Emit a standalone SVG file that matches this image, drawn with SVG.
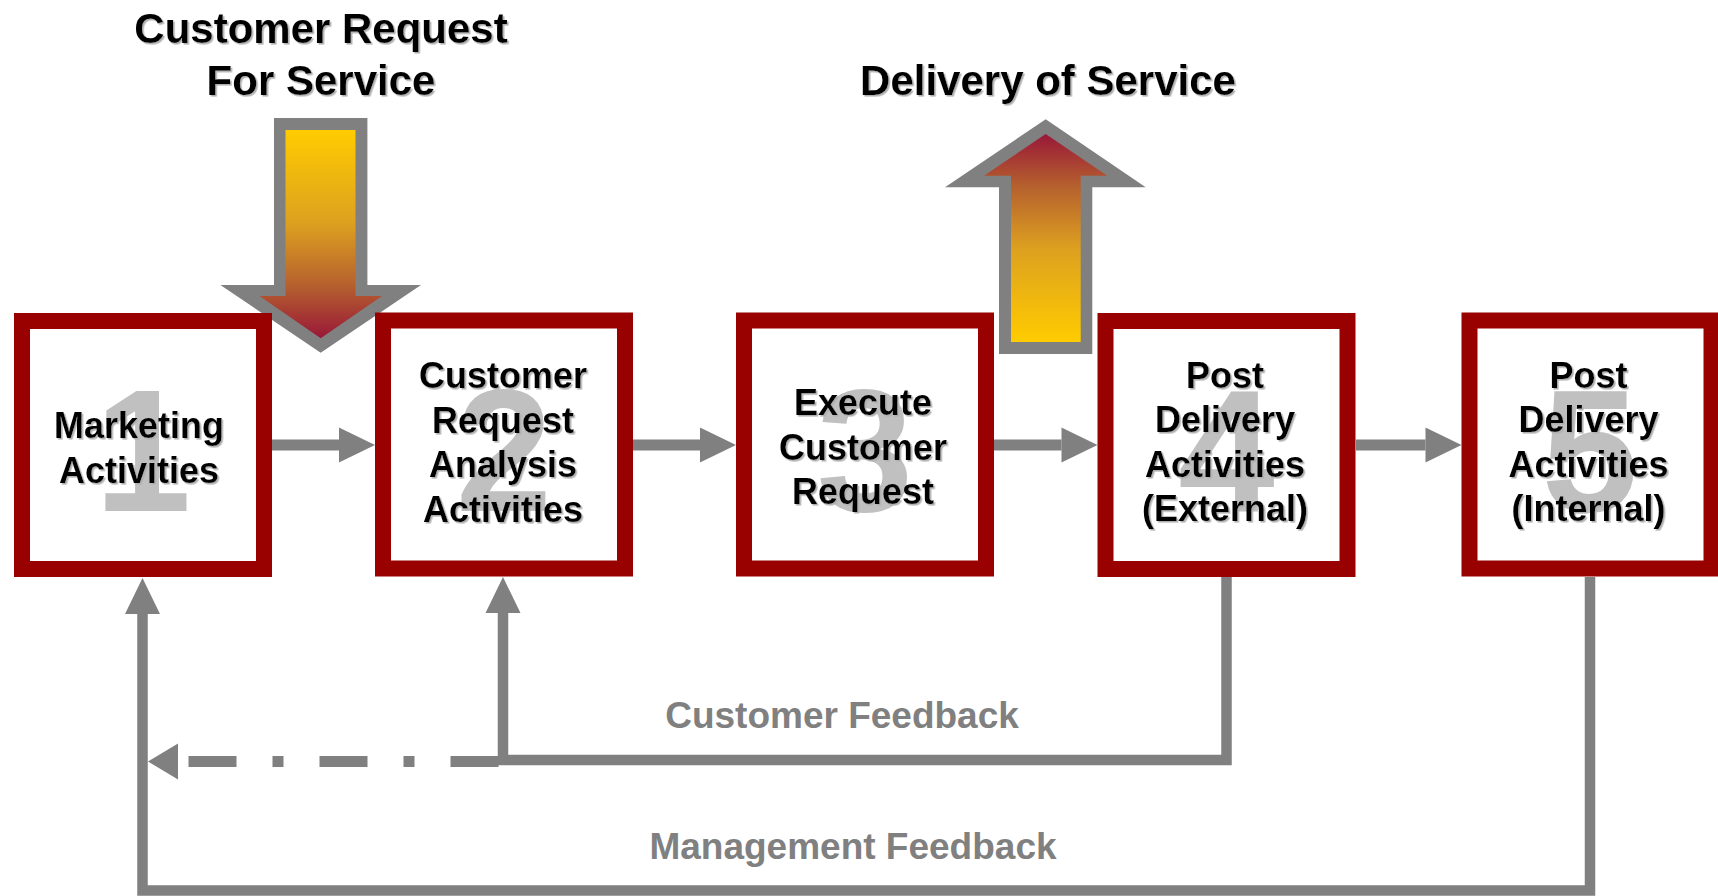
<svg xmlns="http://www.w3.org/2000/svg" width="1718" height="896" viewBox="0 0 1718 896">
<style>
.box{fill:#fff;stroke:#990000;stroke-width:16}
.lbl{font-family:"Liberation Sans",Arial,sans-serif;font-weight:bold;font-size:36px;fill:#000;text-anchor:middle;filter:url(#sh)}
.num{font-family:"Liberation Sans",Arial,sans-serif;font-weight:bold;font-size:174px;fill:#C0C0C0;text-anchor:middle}
.title{font-family:"Liberation Sans",Arial,sans-serif;font-weight:bold;font-size:42px;fill:#000;text-anchor:middle;filter:url(#sh)}
.fb{font-family:"Liberation Sans",Arial,sans-serif;font-weight:bold;font-size:37px;fill:#808080;text-anchor:middle}
.ln{fill:none;stroke:#808080;stroke-linejoin:miter}
</style>
<defs>
<filter id="sh" x="-5%" y="-20%" width="110%" height="140%">
<feDropShadow dx="1.6" dy="1.6" stdDeviation="0.6" flood-color="#b0b0b0" flood-opacity="1"/>
</filter>
<linearGradient id="gDown" x1="0" y1="130" x2="0" y2="338" gradientUnits="userSpaceOnUse">
<stop offset="0" stop-color="#FFCC00"/>
<stop offset="0.45" stop-color="#DDA020"/>
<stop offset="0.75" stop-color="#B5602E"/>
<stop offset="1" stop-color="#991838"/>
</linearGradient>
<linearGradient id="gUp" x1="0" y1="342" x2="0" y2="134" gradientUnits="userSpaceOnUse">
<stop offset="0" stop-color="#FFCC00"/>
<stop offset="0.45" stop-color="#DDA020"/>
<stop offset="0.75" stop-color="#B5602E"/>
<stop offset="1" stop-color="#991838"/>
</linearGradient>
<marker id="ah" markerUnits="userSpaceOnUse" markerWidth="36" markerHeight="35" refX="0" refY="17.5" orient="auto" overflow="visible">
<path d="M0,0 L36,17.5 L0,35 Z" fill="#808080"/>
</marker>
<marker id="ahd" markerUnits="userSpaceOnUse" markerWidth="30" markerHeight="36" refX="0" refY="18" orient="auto" overflow="visible">
<path d="M0,0 L30,18 L0,36 Z" fill="#808080"/>
</marker>
</defs>

<g id="connectors">
<path class="ln" d="M272,445 H339" stroke-width="11" marker-end="url(#ah)"/>
<path class="ln" d="M633,445 H700" stroke-width="11" marker-end="url(#ah)"/>
<path class="ln" d="M994,445 H1061.5" stroke-width="11" marker-end="url(#ah)"/>
<path class="ln" d="M1356,445 H1425.5" stroke-width="11" marker-end="url(#ah)"/>
<path class="ln" d="M1226.5,577 V760 H503 V613" stroke-width="10.5" marker-end="url(#ah)"/>
<path class="ln" d="M1590,577 V890.5 H142.5 V614" stroke-width="10.5" marker-end="url(#ah)"/>
<path class="ln" d="M498.5,761.5 H178" stroke-width="11" stroke-dasharray="48 36 11 36" marker-end="url(#ahd)"/>
<text class="fb" x="842" y="728">Customer Feedback</text>
<text class="fb" x="853" y="859">Management Feedback</text>
</g>

<g id="request-arrow">
<polygon points="274,118 367.4,118 367.4,285 421,285 320.7,352.7 220.4,285 274,285" fill="#808080"/>
<polygon points="285.5,130 355.5,130 355.5,296 382,296 320.7,338.3 259.5,296 285.5,296" fill="url(#gDown)"/>
<text class="title" x="321" y="43">Customer Request</text>
<text class="title" x="321" y="95">For Service</text>
</g>

<g id="delivery-arrow">
<polygon points="1045.7,119.3 1145.7,187.3 1092.3,187.3 1092.3,354 999,354 999,187.3 945,187.3" fill="#808080"/>
<polygon points="1045.7,134 1107.3,175.7 1080.7,175.7 1080.7,342 1011,342 1011,175.7 984,175.7" fill="url(#gUp)"/>
<text class="title" x="1048" y="95">Delivery of Service</text>
</g>

<g id="node-1">
<rect class="box" x="22" y="321" width="242" height="248"/>
<text class="num" x="143" y="511">1</text>
<text class="lbl" x="139"><tspan x="139" y="438">Marketing</tspan><tspan x="139" y="482.5">Activities</tspan></text>
</g>

<g id="node-2">
<rect class="box" x="383" y="320.5" width="242" height="248"/>
<text class="num" x="504" y="511">2</text>
<text class="lbl"><tspan x="503" y="388">Customer</tspan><tspan x="503" y="432.5">Request</tspan><tspan x="503" y="477">Analysis</tspan><tspan x="503" y="521.5">Activities</tspan></text>
</g>

<g id="node-3">
<rect class="box" x="744" y="320.5" width="242" height="248"/>
<text class="num" x="865" y="511">3</text>
<text class="lbl"><tspan x="863" y="415">Execute</tspan><tspan x="863" y="459.5">Customer</tspan><tspan x="863" y="504">Request</tspan></text>
</g>

<g id="node-4">
<rect class="box" x="1105.5" y="321" width="242" height="248"/>
<text class="num" x="1226.5" y="511">4</text>
<text class="lbl"><tspan x="1225" y="387.5">Post</tspan><tspan x="1225" y="432">Delivery</tspan><tspan x="1225" y="476.5">Activities</tspan><tspan x="1225" y="521">(External)</tspan></text>
</g>

<g id="node-5">
<rect class="box" x="1469.5" y="320.5" width="242" height="248"/>
<text class="num" x="1590" y="511">5</text>
<text class="lbl"><tspan x="1588.5" y="387.5">Post</tspan><tspan x="1588.5" y="432">Delivery</tspan><tspan x="1588.5" y="476.5">Activities</tspan><tspan x="1588.5" y="521">(Internal)</tspan></text>
</g>
</svg>
